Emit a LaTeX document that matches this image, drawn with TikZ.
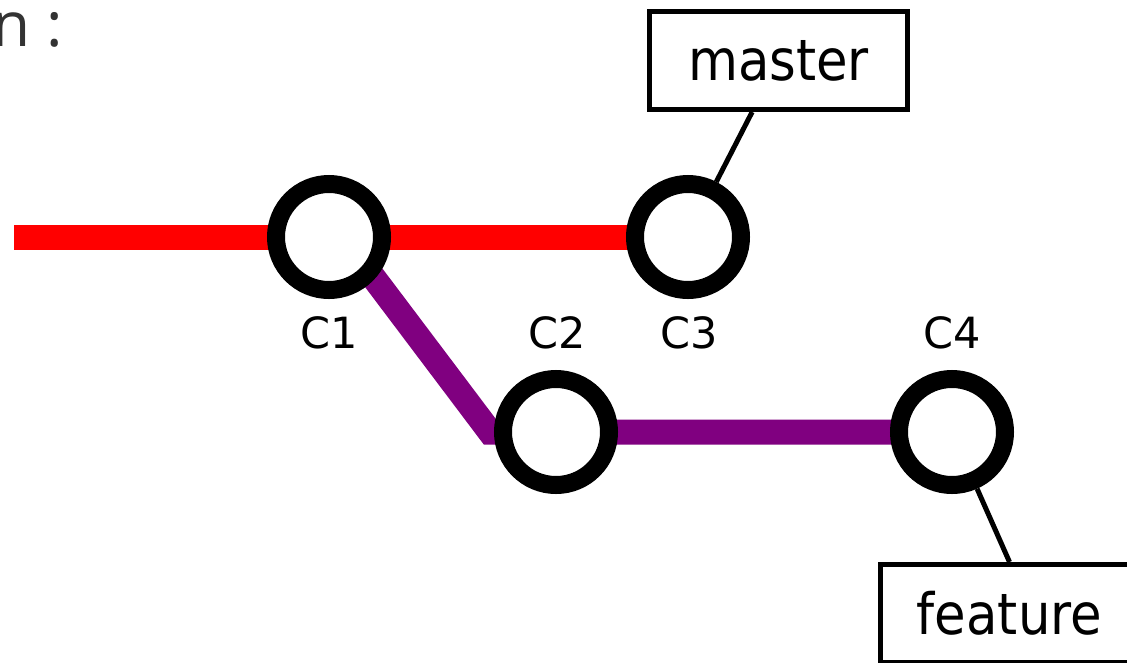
\documentclass[tikz,border=0pt]{standalone}
\usepackage{fontspec}
\setmainfont{DejaVu Sans}
\newfontfamily\reffont{DejaVu Sans}[FakeStretch=0.9]
\newfontfamily\headfont{Open Sans}
\usetikzlibrary{positioning}
\usetikzlibrary{backgrounds}
\definecolor{branchpurple}{RGB}{128,0,128}
\definecolor{headgray}{RGB}{51,51,51}
\tikzset{
  commit/.style={circle, draw=black, fill=white, line width=18pt, minimum size=106pt, inner sep=0pt},
  tag/.style={font=\fontsize{43}{50}\selectfont, inner sep=0pt, anchor=base},
  ref/.style={draw=black, fill=white, line width=5pt, minimum width=258pt, minimum height=98pt, inner sep=0pt, font=\reffont\fontsize{57}{66}\selectfont},
  branch/.style={line width=25pt, line join=miter},
}

\begin{document}
\begin{tikzpicture}[x=1pt, y=-1pt]
  \useasboundingbox (0,0) rectangle (1127,662);
  \clip (0,0) rectangle (1127,662);
  \node[font=\headfont\fontsize{62}{72}\selectfont, text=headgray, inner sep=0pt, anchor=base east] (head) at (63,46) {n :}; %見出し

  % コミット
  \node[commit] (c1) at (329,237) {};
  \node[commit] (c3) at (688,237) {};
  \node[commit] (c2) at (556,432) {};
  \node[commit] (c4) at (952,432) {};
  \node[tag] (t1) at (329,348) {C1};
  \node[tag] (t2) at (557,348) {C2};
  \node[tag] (t3) at (689,348) {C3};
  \node[tag] (t4) at (952,348) {C4};

  % ブランチ名
  \node[ref] (master) at (778.5,60.5) {master};
  \node[ref] (feature) at (1009.5,613.5) {feature};

  \coordinate (tail) at (14,237);
  \coordinate (bend) at (490,432);
  \begin{pgfonlayer}{background}
    \draw[branch, red] (tail) -- (c3.center);
    \draw[branch, branchpurple] ([xshift=14pt]c1.center) -- (bend) -- (c4.center);
    \draw[line width=5pt] (c3) -- (master);
    \draw[line width=5pt] (c4) -- (feature.north);
  \end{pgfonlayer}
\end{tikzpicture}
\end{document}
